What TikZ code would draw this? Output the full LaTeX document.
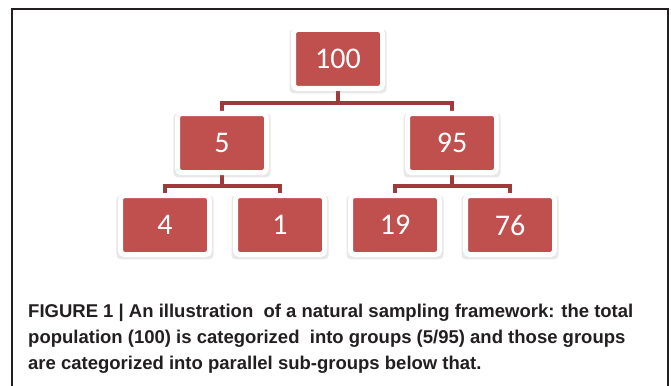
\documentclass[tikz,border=0pt]{standalone}
\usepackage{fontspec}
\setmainfont{Liberation Sans}
\newfontfamily\numfont{Carlito}
\usepackage{tikz}
\usetikzlibrary {positioning, shadows, backgrounds}
\usepackage{xcolor}
\definecolor{boxred}{HTML}{C0504D}
\definecolor{linkred}{HTML}{A0393A}
\definecolor{captgray}{HTML}{231F20}

\tikzset{
countbox/.style={rectangle, fill=boxred, draw=white, line width=5pt, rounded corners=4pt,
  minimum width=89pt, minimum height=59pt, text=white, font=\numfont\fontsize{30}{30}\selectfont,
  drop shadow={shadow xshift=0pt, shadow yshift=-2pt, shadow scale=1.09, opacity=0.18}},
link/.style={draw=linkred, line width=3.2pt}
}

\begin{document}
\begin{tikzpicture}[x=1pt, y=-1pt]
\useasboundingbox (0,0) rectangle (671,385);
\draw[line width=2.5pt, captgray] (12,390) -- (12,9) -- (668,9) -- (668,390);

\node[countbox] (n100) at (338,59) {100};

\node[countbox] (n5) at (222,143) {5};
\node[countbox] (n95) at (452,143) {95};

\node[countbox] (n4) at (165,225) {4};
\node[countbox] (n1) at (280,225) {1};
\node[countbox] (n19) at (395,225) {19};
\node[countbox] (n76) at (510,225) {76};

% elbow connectors behind the boxes
\begin{scope}[on background layer]
\fill[white] (0,0) rectangle (671,385);
\draw[link] (n100.south) -- ++(0,12) -| (n5.north);
\draw[link] (n100.south) -- ++(0,12) -| (n95.north);
\draw[link] (n5.south) -- ++(0,11) -| (n4.north);
\draw[link] (n5.south) -- ++(0,11) -| (n1.north);
\draw[link] (n95.south) -- ++(0,11) -| (n19.north);
\draw[link] (n95.south) -- ++(0,11) -| (n76.north);
\end{scope}

\node[anchor=north west, align=left, inner sep=0, text=captgray,
  font=\bfseries\fontsize{18.5}{25.7}\selectfont] (caption) at (28,304)
  {FIGURE 1 | An illustration~ of a natural sampling framework: the total\\
   population (100) is categorized~ into groups (5/95) and those groups\\
   are categorized into parallel sub-groups below that.};
\end{tikzpicture}
\end{document}
